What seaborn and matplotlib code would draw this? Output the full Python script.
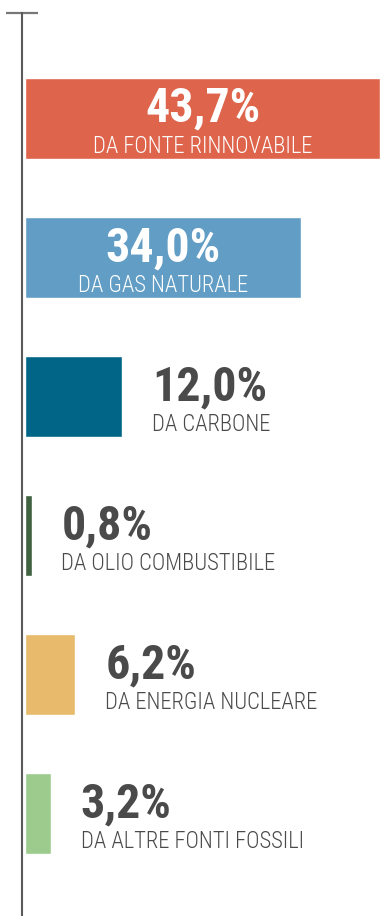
import matplotlib
matplotlib.use("Agg")
import matplotlib.pyplot as plt
import seaborn as sns
import pandas as pd

categories = ["DA FONTE RINNOVABILE", "DA GAS NATURALE", "DA CARBONE",
              "DA OLIO COMBUSTIBILE", "DA ENERGIA NUCLEARE", "DA ALTRE FONTI FOSSILI"]
values = [43.7, 34.0, 12.0, 0.8, 6.2, 3.2]
value_labels = ["43,7%", "34,0%", "12,0%", "0,8%", "6,2%", "3,2%"]
colors = ["#de644c", "#619dc4", "#006587", "#416240", "#e8bb6c", "#9dcb8e"]

sns.set_theme(style="white")
plt.rcParams["font.family"] = ["Roboto Condensed", "Roboto", "DejaVu Sans"]

df = pd.DataFrame({"fonte": categories, "quota": values})

fig = plt.figure(figsize=(3.80, 9.16), dpi=100)
ax = fig.add_axes([22 / 380, 0, 358 / 380, 903 / 916])

sns.barplot(data=df, x="quota", y="fonte", hue="fonte", palette=colors,
            width=0.583, legend=False, ax=ax, saturation=1)

ax.set_xlim(-0.37, 43.7)
ax.set_ylim(5.737, -0.759)
ax.set_xlabel("")
ax.set_ylabel("")
ax.set_xticks([])
ax.set_yticks([-0.759])
ax.set_yticklabels([""])
ax.tick_params(axis="y", direction="inout", length=23, width=1.6, color="#777777", left=True)

for side in ["top", "right", "bottom"]:
    ax.spines[side].set_visible(False)
ax.spines["left"].set_color("#5a5a5a")
ax.spines["left"].set_linewidth(1.5)

for i, (cat, v, lab) in enumerate(zip(categories, values, value_labels)):
    if v > 20:
        x, dx, ha, col = v / 2, 0, "center", "white"
    else:
        x, dx, ha, col = v, 21.5, "left", "#4a4a4a"
    ax.annotate(lab, (x, i), xytext=(dx, -2.5), textcoords="offset points",
                ha=ha, va="baseline", fontsize=34.5, fontweight="bold", color=col)
    ax.annotate(cat, (x, i), xytext=(dx, -24.5), textcoords="offset points",
                ha=ha, va="baseline", fontsize=16.3, fontweight="light", color=col)

fig.savefig("out.png", dpi=100)
